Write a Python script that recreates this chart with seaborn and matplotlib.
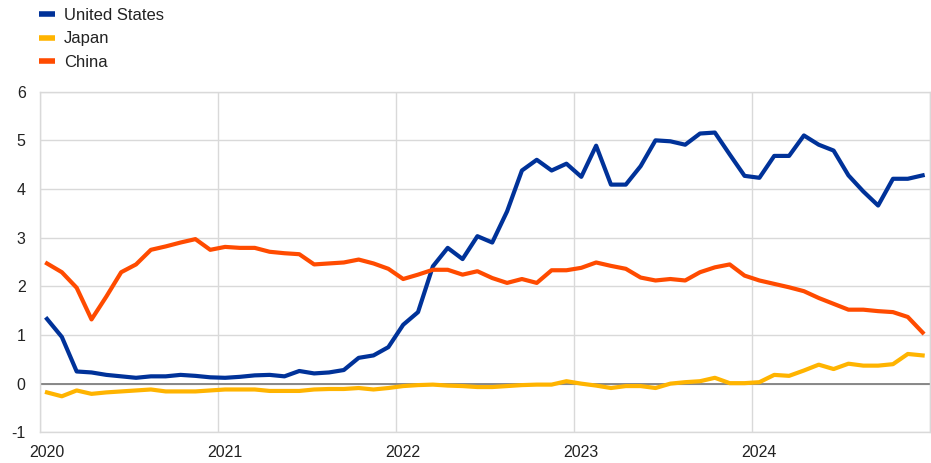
import numpy as np
import pandas as pd
import seaborn as sns
import matplotlib.pyplot as plt
from matplotlib.ticker import FixedLocator

# monthly values, Jan 2020 - Dec 2024
us = [1.33, 0.96, 0.25, 0.23, 0.18, 0.15, 0.12, 0.15, 0.15, 0.18, 0.16, 0.13,
      0.12, 0.14, 0.17, 0.18, 0.15, 0.26, 0.21, 0.23, 0.28, 0.53, 0.58, 0.75,
      1.21, 1.47, 2.41, 2.79, 2.56, 3.03, 2.90, 3.54, 4.38, 4.60, 4.38, 4.52,
      4.25, 4.89, 4.09, 4.09, 4.47, 5.00, 4.98, 4.91, 5.14, 5.16, 4.71, 4.27,
      4.23, 4.68, 4.68, 5.10, 4.91, 4.79, 4.28, 3.95, 3.66, 4.21, 4.21, 4.28]
japan = [-0.18, -0.26, -0.14, -0.21, -0.18, -0.16, -0.14, -0.12, -0.16, -0.16, -0.16, -0.14,
         -0.12, -0.12, -0.12, -0.15, -0.15, -0.15, -0.12, -0.11, -0.11, -0.09, -0.12, -0.09,
         -0.05, -0.03, -0.02, -0.04, -0.05, -0.07, -0.07, -0.05, -0.03, -0.02, -0.02, 0.05,
         0.00, -0.04, -0.09, -0.05, -0.05, -0.09, 0.00, 0.03, 0.05, 0.12, 0.01, 0.01,
         0.03, 0.18, 0.16, 0.27, 0.39, 0.30, 0.41, 0.37, 0.37, 0.40, 0.61, 0.58]
china = [2.47, 2.29, 1.97, 1.32, 1.79, 2.29, 2.45, 2.75, 2.82, 2.90, 2.97, 2.75,
         2.81, 2.79, 2.79, 2.71, 2.68, 2.66, 2.45, 2.47, 2.49, 2.55, 2.47, 2.36,
         2.15, 2.24, 2.34, 2.34, 2.24, 2.31, 2.17, 2.07, 2.15, 2.07, 2.33, 2.33,
         2.38, 2.49, 2.42, 2.36, 2.18, 2.12, 2.15, 2.12, 2.29, 2.39, 2.45, 2.22,
         2.12, 2.05, 1.98, 1.90, 1.76, 1.64, 1.52, 1.52, 1.49, 1.47, 1.37, 1.05]
years = ["2020", "2021", "2022", "2023", "2024"]

series = {"United States": us, "Japan": japan, "China": china}
colors = {"United States": "#003299", "Japan": "#ffb400", "China": "#ff4b00"}

n = len(us)
frames = []
for name, vals in series.items():
    frames.append(pd.DataFrame({"month": np.arange(n) + 0.5, "value": vals, "country": name}))
df = pd.concat(frames, ignore_index=True)

plt.rcParams['font.family'] = ['Liberation Sans', 'DejaVu Sans']
grid_col = "#d9d9d9"

fig = plt.figure(figsize=(9.31, 4.63), dpi=100)
ax = fig.add_axes([0.0425, 0.0663, 0.9565, 0.7357])

sns.lineplot(data=df, x="month", y="value", hue="country", palette=colors,
             linewidth=3, ax=ax, legend=False)

ax.set_xlim(0, n)
ax.set_ylim(-1, 6)
ax.set_yticks(range(-1, 7))
ax.set_yticklabels([str(v) for v in range(-1, 7)])

# gridlines at year boundaries, labels at January
ax.xaxis.set_major_locator(FixedLocator(np.arange(0, n + 1, 12)))
ax.set_xticklabels([])
ax.xaxis.set_minor_locator(FixedLocator(np.arange(0, n, 12) + 0.5))
ax.set_xticklabels(years, minor=True)

ax.grid(True, which="major", color=grid_col, linewidth=1)
ax.set_axisbelow(True)
ax.axhline(0, color="#808080", linewidth=1.3, zorder=1.5)
for s in ax.spines.values():
    s.set_color(grid_col)
    s.set_linewidth(1)

ax.tick_params(axis="both", which="both", length=0, labelsize=11.5, colors="#222222")
ax.tick_params(axis="y", pad=10)
ax.tick_params(axis="x", which="minor", pad=9)
ax.set_xlabel("")
ax.set_ylabel("")

handles = [plt.Line2D([], [], color=colors[k], linewidth=4, solid_capstyle="butt") for k in series]
fig.legend(handles, list(series.keys()), loc="upper left", bbox_to_anchor=(0.0345, 0.997),
           frameon=False, fontsize=12, handlelength=1.0, handletextpad=0.52,
           labelspacing=0.5, borderaxespad=0, labelcolor="#222222")

fig.savefig("out.png", dpi=100)
